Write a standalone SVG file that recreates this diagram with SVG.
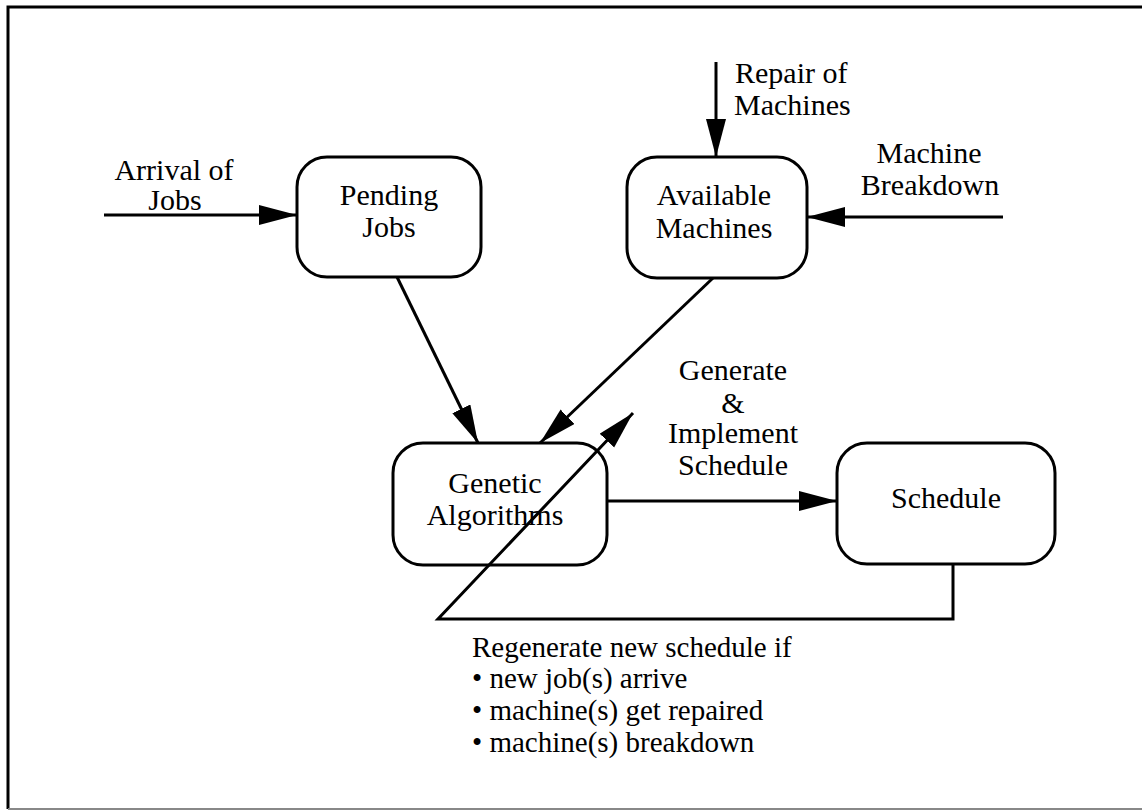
<svg xmlns="http://www.w3.org/2000/svg" width="1142" height="811" viewBox="0 0 1142 811">
  <defs>
    <marker id="arrow" markerUnits="userSpaceOnUse" markerWidth="40" markerHeight="22" refX="38" refY="10" orient="auto">
      <path d="M0,0 L38,10 L0,20 Z" fill="#000"/>
    </marker>
    <style>
      .box { fill: #fff; stroke: #000; stroke-width: 3; }
      .edge { fill: none; stroke: #000; stroke-width: 3; }
      .lbl { font-family: "Liberation Serif", "Times New Roman", serif; font-size: 30px; fill: #000; }
      .mid { text-anchor: middle; }
      .note { font-family: "Liberation Serif", "Times New Roman", serif; font-size: 29px; fill: #000; }
    </style>
  </defs>

  <rect width="1142" height="811" fill="#fff"/>

  <!-- frame -->
  <path d="M1142,7 H8 V809" fill="none" stroke="#000" stroke-width="3"/>
  <path d="M8,809 H1142" fill="none" stroke="#888" stroke-width="2"/>

  <!-- nodes -->
  <g id="pending-jobs">
    <rect class="box" x="297" y="157" width="184" height="120" rx="30" ry="30"/>
    <text class="lbl mid" x="389" y="205">Pending</text>
    <text class="lbl mid" x="389" y="237">Jobs</text>
  </g>
  <g id="available-machines">
    <rect class="box" x="627" y="157" width="180" height="121" rx="30" ry="30"/>
    <text class="lbl mid" x="714" y="205">Available</text>
    <text class="lbl mid" x="714" y="238">Machines</text>
  </g>
  <g id="genetic-algorithms">
    <rect class="box" x="393" y="443" width="214" height="122" rx="30" ry="30"/>
    <text class="lbl mid" x="495" y="493">Genetic</text>
    <text class="lbl mid" x="495" y="525">Algorithms</text>
  </g>
  <g id="schedule">
    <rect class="box" x="837" y="443" width="218" height="121" rx="30" ry="30"/>
    <text class="lbl mid" x="946" y="508">Schedule</text>
  </g>

  <!-- connectors -->
  <g id="connectors">
    <line class="edge" x1="104" y1="215" x2="297" y2="215" marker-end="url(#arrow)"/>
    <line class="edge" x1="716" y1="62" x2="716" y2="157" marker-end="url(#arrow)"/>
    <line class="edge" x1="1003" y1="217" x2="807" y2="217" marker-end="url(#arrow)"/>
    <line class="edge" x1="397" y1="277" x2="478" y2="443" marker-end="url(#arrow)"/>
    <line class="edge" x1="713" y1="278" x2="540" y2="443" marker-end="url(#arrow)"/>
    <line class="edge" x1="607" y1="501" x2="837" y2="501" marker-end="url(#arrow)"/>
    <polyline class="edge" points="953,564 953,619 438,619 633,413" marker-end="url(#arrow)"/>
  </g>

  <!-- connector labels -->
  <g id="labels">
    <text class="lbl mid" x="174" y="180">Arrival of</text>
    <text class="lbl mid" x="175" y="210">Jobs</text>
    <text class="lbl" x="735" y="83">Repair of</text>
    <text class="lbl" x="734" y="115">Machines</text>
    <text class="lbl mid" x="929" y="163">Machine</text>
    <text class="lbl mid" x="930" y="195">Breakdown</text>
    <text class="lbl mid" x="733" y="380">Generate</text>
    <text class="lbl mid" x="733" y="413">&amp;</text>
    <text class="lbl mid" x="733" y="443">Implement</text>
    <text class="lbl mid" x="733" y="475">Schedule</text>
    <text class="note" x="472" y="657">Regenerate new schedule if</text>
    <text class="note" x="472" y="688">• new job(s) arrive</text>
    <text class="note" x="472" y="720">• machine(s) get repaired</text>
    <text class="note" x="472" y="752">• machine(s) breakdown</text>
  </g>
</svg>
